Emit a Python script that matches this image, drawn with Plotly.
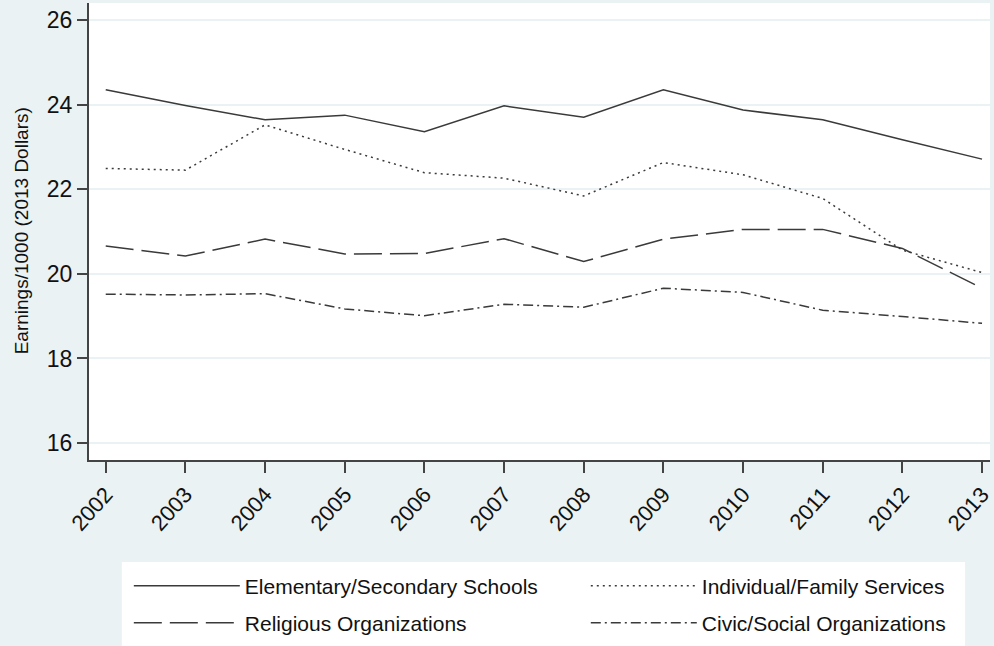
import plotly.graph_objects as go

years = list(range(2002, 2014))
elementary = [24.35, 23.98, 23.64, 23.75, 23.36, 23.97, 23.70, 24.35, 23.87, 23.64, 23.17, 22.71]
individual = [22.49, 22.45, 23.52, 22.94, 22.39, 22.26, 21.84, 22.63, 22.34, 21.78, 20.56, 20.03]
religious = [20.66, 20.42, 20.82, 20.47, 20.48, 20.83, 20.29, 20.82, 21.05, 21.05, 20.60, 19.66]
civic = [19.52, 19.50, 19.53, 19.17, 19.01, 19.28, 19.21, 19.66, 19.56, 19.14, 18.99, 18.83]

names = ["Elementary/Secondary Schools", "Individual/Family Services",
         "Religious Organizations", "Civic/Social Organizations"]
series = [elementary, individual, religious, civic]
dashes = ["solid", "2px,4px", "28px,8px", "10px,4px,2px,4px"]
legend_ids = ["legend", "legend2", "legend3", "legend4"]
y_title = "Earnings/1000 (2013 Dollars)"

BG = "#EAF2F3"
LINE = "#3a3a3a"
FONT = "Liberation Sans, Arial, sans-serif"

W, H = 994, 646
ML, MR, MT, MB = 89, 0, 3, 186
PW, PH = W - ML - MR, H - MT - MB


def px_x(x):
    return (x - ML) / PW


def px_y(y):
    return (H - MB - y) / PH


fig = go.Figure()
for name, ys, dash, lg in zip(names, series, dashes, legend_ids):
    fig.add_trace(go.Scatter(x=years, y=ys, mode="lines", name=name,
                             line=dict(color=LINE, width=1.5, dash=dash),
                             legend=lg, showlegend=True))

# white legend box
fig.add_shape(type="rect", xref="paper", yref="paper",
              x0=px_x(122), x1=px_x(969), y0=px_y(700), y1=px_y(562),
              fillcolor="white", line=dict(width=0), layer="below")

# y-axis title
fig.add_annotation(text=y_title, xref="paper", yref="paper",
                   x=px_x(21), y=px_y(231), xanchor="center", yanchor="middle",
                   textangle=-90, showarrow=False,
                   font=dict(size=19, family=FONT, color="#111"))

legend_common = dict(orientation="h", bgcolor="rgba(0,0,0,0)",
                     font=dict(family=FONT, size=21, color="#111"),
                     itemwidth=106, xanchor="left", yanchor="middle")

legend_pos = {"legend": (129, 586), "legend2": (588, 586),
              "legend3": (129, 623), "legend4": (588, 623)}

fig.update_layout(
    width=W, height=H, showlegend=True,
    margin=dict(l=ML, r=MR, t=MT, b=MB),
    paper_bgcolor=BG, plot_bgcolor="white",
    font=dict(family=FONT, color="#111"),
    xaxis=dict(range=[2001.79, 2013.1], tickmode="array", tickvals=years,
               ticktext=[str(y) for y in years], tickangle=-48,
               tickfont=dict(size=22, family=FONT, color="#111"),
               ticklabeloverflow="allow",
               ticks="outside", ticklen=11, tickwidth=1.5, tickcolor="#444",
               showline=True, linecolor="#444", linewidth=2,
               showgrid=False, zeroline=False),
    yaxis=dict(range=[15.6, 26.4], tickvals=[16, 18, 20, 22, 24, 26],
               tickfont=dict(size=23, family=FONT, color="#111"),
               ticks="outside", ticklen=10, tickwidth=1.5, tickcolor="#444",
               showline=True, linecolor="#444", linewidth=2,
               showgrid=True, gridcolor=BG, gridwidth=2, zeroline=False),
)
for lg, (lx, ly) in legend_pos.items():
    fig.update_layout({lg: dict(**legend_common, x=px_x(lx), y=px_y(ly))})

fig.write_html("out.html", config={"displayModeBar": False},
               post_script="document.body.style.margin='0';document.body.style.padding='0';")
